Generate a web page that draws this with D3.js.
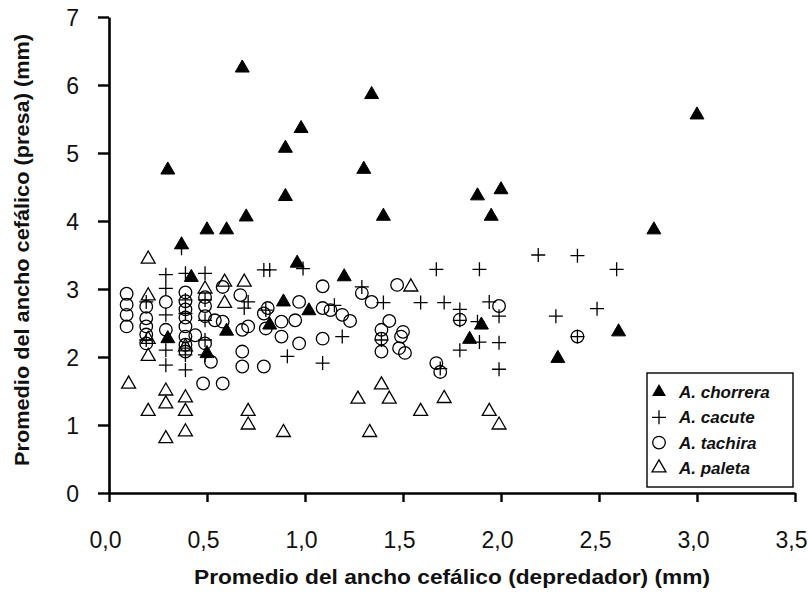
<!DOCTYPE html>
<html>
<head>
<meta charset="utf-8">
<script src="https://cdn.jsdelivr.net/npm/d3@7"></script>
<style>
  body { margin: 0; background: #fff; }
  text { font-family: "Liberation Sans", Arial, sans-serif; }
</style>
</head>
<body>
<script>
// series values: [x, y] = [predator head width, prey head width] (mm)
var chorrera = [
  [0.30,4.75],[0.37,3.65],[0.42,3.17],[0.30,2.27],[0.50,3.87],[0.50,2.05],[0.60,3.87],[0.60,2.38],
  [0.68,6.25],[0.70,4.06],[0.82,2.47],[0.89,2.81],[0.90,5.07],[0.90,4.36],[0.96,3.38],[0.98,5.36],
  [1.02,2.68],[1.20,3.18],[1.30,4.76],[1.34,5.86],[1.40,4.07],[1.84,2.26],[1.88,4.37],[1.90,2.47],
  [1.95,4.07],[2.00,4.46],[2.29,1.98],[2.60,2.37],[2.78,3.87],[3.00,5.56]
];
var cacute = [
  [0.19,2.81],[0.19,2.25],[0.29,3.21],[0.29,3.01],[0.29,2.62],[0.29,2.10],[0.29,1.88],[0.37,3.60],
  [0.39,3.23],[0.39,2.84],[0.39,2.64],[0.39,2.13],[0.39,2.03],[0.39,1.81],[0.49,3.23],[0.49,2.84],
  [0.49,2.54],[0.49,2.25],[0.49,2.03],[0.69,2.72],[0.71,2.81],[0.79,3.28],[0.82,3.28],[0.80,2.69],
  [0.91,2.01],[0.99,3.30],[1.09,1.91],[1.15,2.76],[1.19,2.30],[1.29,3.03],[1.39,2.25],[1.40,2.80],
  [1.59,2.80],[1.67,3.29],[1.69,1.83],[1.71,2.80],[1.79,2.70],[1.79,2.54],[1.79,2.10],[1.88,2.52],
  [1.89,3.29],[1.89,2.22],[1.94,2.81],[1.99,2.60],[1.99,2.21],[1.99,1.82],[2.19,3.50],[2.28,2.60],
  [2.39,3.49],[2.39,2.30],[2.49,2.71],[2.59,3.29]
];
var tachira = [
  [0.09,2.93],[0.09,2.77],[0.09,2.62],[0.09,2.45],
  [0.19,2.74],[0.19,2.57],[0.19,2.45],[0.19,2.33],[0.19,2.20],
  [0.29,2.81],[0.29,2.40],
  [0.39,2.95],[0.39,2.82],[0.39,2.70],[0.39,2.58],[0.39,2.45],[0.39,2.30],[0.39,2.18],[0.39,2.08],
  [0.44,2.32],[0.49,2.88],[0.49,2.75],[0.49,2.60],[0.49,2.20],[0.52,1.93],
  [0.54,2.54],[0.58,2.52],[0.58,3.03],[0.67,2.91],[0.68,2.40],[0.71,2.45],[0.68,2.08],[0.68,1.86],
  [0.79,1.86],[0.48,1.61],[0.58,1.61],
  [0.79,2.64],[0.80,2.42],[0.81,2.72],[0.88,2.52],[0.95,2.54],[0.88,2.30],[0.97,2.20],[0.97,2.81],
  [1.09,3.04],[1.09,2.72],[1.13,2.69],[1.19,2.62],[1.23,2.53],[1.09,2.27],
  [1.29,2.94],[1.34,2.81],[1.47,3.06],[1.43,2.53],[1.39,2.40],[1.50,2.37],[1.49,2.30],[1.39,2.27],
  [1.39,2.08],[1.48,2.13],[1.51,2.06],[1.67,1.91],[1.69,1.78],[1.79,2.55],[1.99,2.75],[2.39,2.30]
];
var paleta = [
  [0.10,1.60],[0.20,3.44],[0.20,2.90],[0.20,2.26],[0.20,2.01],[0.20,1.20],[0.29,1.50],[0.29,1.31],
  [0.29,0.80],[0.39,1.40],[0.39,1.20],[0.39,0.90],[0.39,2.15],[0.49,3.00],[0.59,3.10],[0.59,2.79],
  [0.69,3.10],[0.71,1.20],[0.71,1.00],[0.89,0.89],[1.27,1.38],[1.33,0.89],[1.39,1.59],[1.43,1.38],
  [1.54,3.03],[1.59,1.20],[1.71,1.39],[1.94,1.20],[1.99,1.00]
];
var legendNames = ["A. chorrera", "A. cacute", "A. tachira", "A. paleta"];
var xTicks = [0, 0.5, 1, 1.5, 2, 2.5, 3, 3.5];
var yTicks = [0, 1, 2, 3, 4, 5, 6, 7];

var width = 808, height = 595;
var svg = d3.select("body").append("svg").attr("width", width).attr("height", height);

var x = d3.scaleLinear().domain([0, 3.5]).range([109, 795]);
var y = d3.scaleLinear().domain([0, 7]).range([493, 17]);
var fmt = function(d){ return d3.format(".1f")(d).replace(".", ","); };

// axes
var xAxis = svg.append("g").attr("transform", "translate(0," + y(0) + ")")
  .call(d3.axisBottom(x).tickValues(xTicks).tickSize(9).tickFormat(fmt).tickSizeOuter(0));
var yAxis = svg.append("g").attr("transform", "translate(" + x(0) + ",0)")
  .call(d3.axisLeft(y).tickValues(yTicks).tickSize(11).tickFormat(d3.format("d")).tickSizeOuter(0));
[xAxis, yAxis].forEach(function(a){
  a.select(".domain").attr("stroke", "#000").attr("stroke-width", 2.6);
  a.selectAll(".tick line").attr("stroke", "#000").attr("stroke-width", 2.4);
  a.selectAll(".tick text").attr("fill", "#111").attr("font-size", 23)
    .attr("font-family", "'Liberation Sans', Arial, sans-serif");
});
xAxis.selectAll(".tick text").attr("y", 0).attr("dy", 0).attr("transform", "translate(-4,55)");
yAxis.selectAll(".tick text").attr("x", -30).attr("dy", "0.35em");

// axis titles
svg.append("text").attr("x", 452).attr("y", 584).attr("text-anchor", "middle")
  .attr("font-size", 20).attr("font-weight", "bold").attr("fill", "#111")
  .attr("textLength", 516).attr("lengthAdjust", "spacingAndGlyphs")
  .text("Promedio del ancho cefálico (depredador) (mm)");
svg.append("text").attr("transform", "translate(29,250) rotate(-90)").attr("text-anchor", "middle")
  .attr("font-size", 20).attr("font-weight", "bold").attr("fill", "#111")
  .attr("textLength", 432).attr("lengthAdjust", "spacingAndGlyphs")
  .text("Promedio del ancho cefálico (presa) (mm)");

// markers
var tri = d3.symbol().type(d3.symbolTriangle).size(84);
var plus = function(s){ return "M" + (-s) + ",0H" + s + "M0," + (-s) + "V" + s; };

var g = svg.append("g");
g.selectAll(".pal").data(paleta).enter().append("path")
  .attr("d", tri).attr("transform", function(d){ return "translate(" + x(d[0]) + "," + y(d[1]) + ")"; })
  .attr("fill", "none").attr("stroke", "#000").attr("stroke-width", 1.3);
g.selectAll(".tac").data(tachira).enter().append("circle")
  .attr("cx", function(d){ return x(d[0]); }).attr("cy", function(d){ return y(d[1]); })
  .attr("r", 6.3).attr("fill", "none").attr("stroke", "#000").attr("stroke-width", 1.3);
g.selectAll(".cac").data(cacute).enter().append("path")
  .attr("d", plus(7)).attr("transform", function(d){ return "translate(" + x(d[0]) + "," + y(d[1]) + ")"; })
  .attr("fill", "none").attr("stroke", "#000").attr("stroke-width", 1.3);
g.selectAll(".cho").data(chorrera).enter().append("path")
  .attr("d", tri).attr("transform", function(d){ return "translate(" + x(d[0]) + "," + y(d[1]) + ")"; })
  .attr("fill", "#000").attr("stroke", "#000").attr("stroke-width", 1);

// legend
var lg = svg.append("g").attr("transform", "translate(647,373)");
lg.append("rect").attr("x", 0).attr("y", 0).attr("width", 146).attr("height", 114)
  .attr("fill", "#fff").attr("stroke", "#000").attr("stroke-width", 1.4);
var rows = lg.selectAll(".row").data(legendNames).enter().append("g")
  .attr("transform", function(d, i){ return "translate(0," + (19 + i * 25.3) + ")"; });
rows.each(function(d, i){
  var r = d3.select(this);
  if (i === 0) r.append("path").attr("d", tri).attr("transform", "translate(12,0)").attr("fill", "#000");
  if (i === 1) r.append("path").attr("d", plus(7)).attr("transform", "translate(12,0)")
    .attr("stroke", "#000").attr("stroke-width", 1.3);
  if (i === 2) r.append("circle").attr("cx", 12).attr("cy", 0).attr("r", 6.3)
    .attr("fill", "none").attr("stroke", "#000").attr("stroke-width", 1.3);
  if (i === 3) r.append("path").attr("d", tri).attr("transform", "translate(12,0)")
    .attr("fill", "none").attr("stroke", "#000").attr("stroke-width", 1.3);
});
rows.append("text").attr("x", 32).attr("y", 0).attr("dy", "0.36em")
  .attr("font-size", 17).attr("font-weight", "bold").attr("font-style", "italic").attr("fill", "#111")
  .text(function(d){ return d; });
</script>
</body>
</html>
